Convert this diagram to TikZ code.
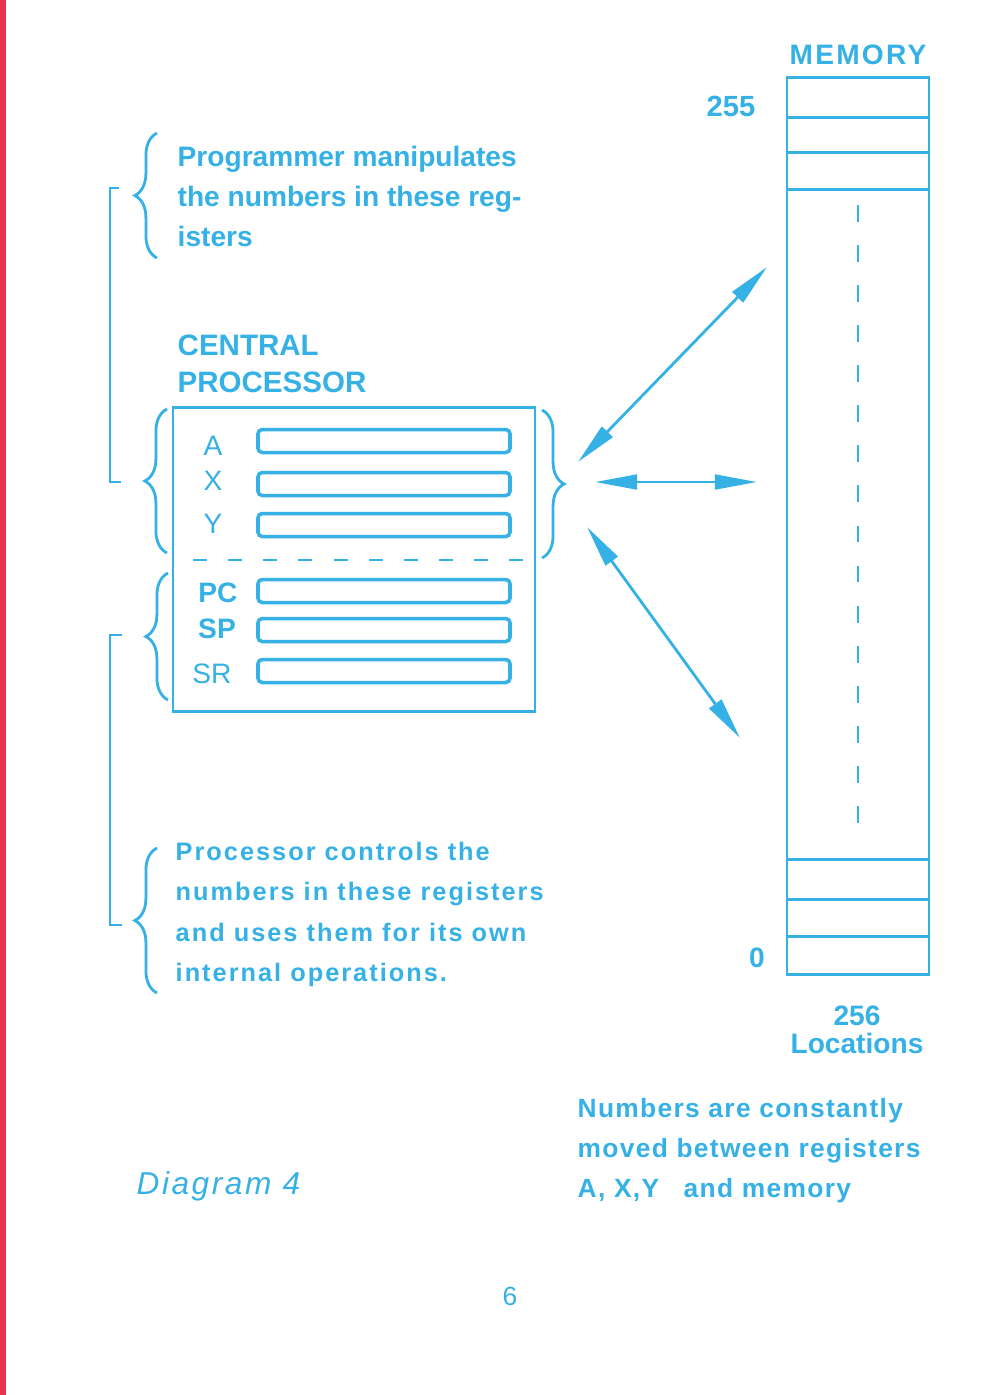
\documentclass[tikz,border=0pt]{standalone}
\usepackage{fontspec}
\setmainfont{Liberation Sans}
\newfontfamily\wideSp{Liberation Sans}[LetterSpace=8]
\newfontfamily\midSp{Liberation Sans}[LetterSpace=5]
\usetikzlibrary{positioning,arrows.meta,decorations.pathreplacing}
\definecolor{inkCy}{HTML}{36B1E5}
\definecolor{edgeRd}{HTML}{E8344E}

\begin{document}
\begin{tikzpicture}[
  x=0.1mm, y=-0.1mm,
  ln/.style={draw=inkCy, line width=0.85pt},
  rbar/.style={ln, line width=1pt, rounded corners=1.2pt, minimum width=25.2mm, minimum height=2.3mm, inner sep=0pt},
  brc/.style={draw=inkCy, line width=0.8pt, decorate, decoration={brace, amplitude=6.3pt}},
  xfer/.style={{Triangle[length=12pt,width=4.2pt]}-{Triangle[length=12pt,width=4.2pt]}, draw=inkCy, line width=0.8pt},
  txt/.style={text=inkCy, inner sep=0pt, anchor=base west},
  rlab/.style={text=inkCy, inner sep=0pt, anchor=base, font=\fontsize{8}{9}\selectfont},
]
\fill[white] (0,0) rectangle (1000,1395);
\useasboundingbox (0,0) rectangle (1000,1395);
\fill[edgeRd] (0,0) rectangle (6,1395);

% =========================== MEMORY ===========================
\node[txt, anchor=base, font=\wideSp\bfseries\fontsize{8}{9}\selectfont] (memT) at (858,64) {MEMORY};
\node[ln, minimum width=14.2mm, minimum height=89.7mm, inner sep=0pt] (mem) at (858,525.5) {};
\foreach \yy in {117,152,189,859,899,936}
  \draw[ln] (mem.west |- 0,\yy) -- (mem.east |- 0,\yy);
\draw[draw=inkCy, line width=0.6pt, dash pattern=on 4.8pt off 6.6pt] (858,205) -- (858,845);

\node[txt, anchor=base, font=\bfseries\fontsize{8.3}{9}\selectfont] (hi) at (731,116) {255};
\node[txt, anchor=base, font=\bfseries\fontsize{8}{9}\selectfont] (lo) at (757,967) {0};
\node[txt, anchor=base, font=\bfseries\fontsize{8}{9}\selectfont] (cnt) at (857,1025) {256};
\node[txt, anchor=base, font=\bfseries\fontsize{8}{9}\selectfont] (locs) at (857,1053) {Locations};

% =========================== CENTRAL PROCESSOR ===========================
\node[txt, font=\bfseries\fontsize{8.4}{9}\selectfont] (cpuT1) at (177,355) {CENTRAL};
\node[txt, font=\bfseries\fontsize{8.4}{9}\selectfont] (cpuT2) at (177,392) {PROCESSOR};
\node[ln, minimum width=36.2mm, minimum height=30.4mm, inner sep=0pt] (cpu) at (354,559) {};

\foreach \nm/\yc/\yb/\lx/\wt in {A/441/455/213/\mdseries, X/484/490/213/\mdseries, Y/525/533/213/\mdseries,
                                  PC/591/602/218/\bfseries, SP/630/638/217/\bfseries, SR/671/683/212/\mdseries}{
  \node[rbar] (r\nm) at (384,\yc) {};
  \node[rlab] (l\nm) at (\lx,\yb) {\wt\nm};}
\draw[draw=inkCy, line width=0.8pt, dash pattern=on 4pt off 6pt] (193,560) -- (528,560);

% braces round the register groups
\draw[brc] (167,553) -- (167,409);
\draw[brc] (168,700) -- (168,573);
\draw[brc] (542,410) -- (542,558);

% =========================== NOTES ===========================
\draw[brc] (157,258) -- (157,133);
\foreach \t [count=\i] in {Programmer manipulates, the numbers in these reg-, isters}
  \node[txt, font=\bfseries\fontsize{8}{9}\selectfont] (pg\i) at (177,{166+40*(\i-1)}) {\t};

\draw[brc] (157,993) -- (157,848);
\foreach \t [count=\i] in {Processor controls the, numbers in these registers, and uses them for its own, internal operations.}
  \node[txt, font=\wideSp\bfseries\fontsize{7.2}{9}\selectfont] (pc\i) at (175,{860+40.5*(\i-1)}) {\t};

% brackets joining notes and braces
\coordinate (bkA) at (119,188); \coordinate (bkB) at (121,482);
\coordinate (bkC) at (122,635); \coordinate (bkD) at (122,925);
\draw[draw=inkCy, line width=0.6pt] (bkA) -- ++(-9,0) |- (bkB);
\draw[draw=inkCy, line width=0.6pt] (bkC) -- ++(-12,0) |- (bkD);

% =========================== TRANSFERS ===========================
\coordinate (a1s) at (578,462); \coordinate (a1e) at (767,267);
\coordinate (a2s) at (595,482); \coordinate (a2e) at (757,482);
\coordinate (a3s) at (587,527); \coordinate (a3e) at (740,738);
\draw[xfer] (a1s) -- (a1e);
\draw[xfer] (a2s) -- (a2e);
\draw[xfer] (a3s) -- (a3e);

\foreach \t [count=\i] in {Numbers are constantly, moved between registers, {A, X,Y\hspace{7pt}and memory}}
  \node[txt, font=\midSp\bfseries\fontsize{7.5}{9}\selectfont] (nb\i) at (577,{1117+40*(\i-1)}) {\t};

\node[txt, font=\wideSp\itshape\fontsize{9}{10}\selectfont] (dgm) at (136,1194) {Diagram 4};
\node[txt, anchor=base, font=\fontsize{7.5}{9}\selectfont] (pnum) at (510,1305) {6};

\end{tikzpicture}
\end{document}
